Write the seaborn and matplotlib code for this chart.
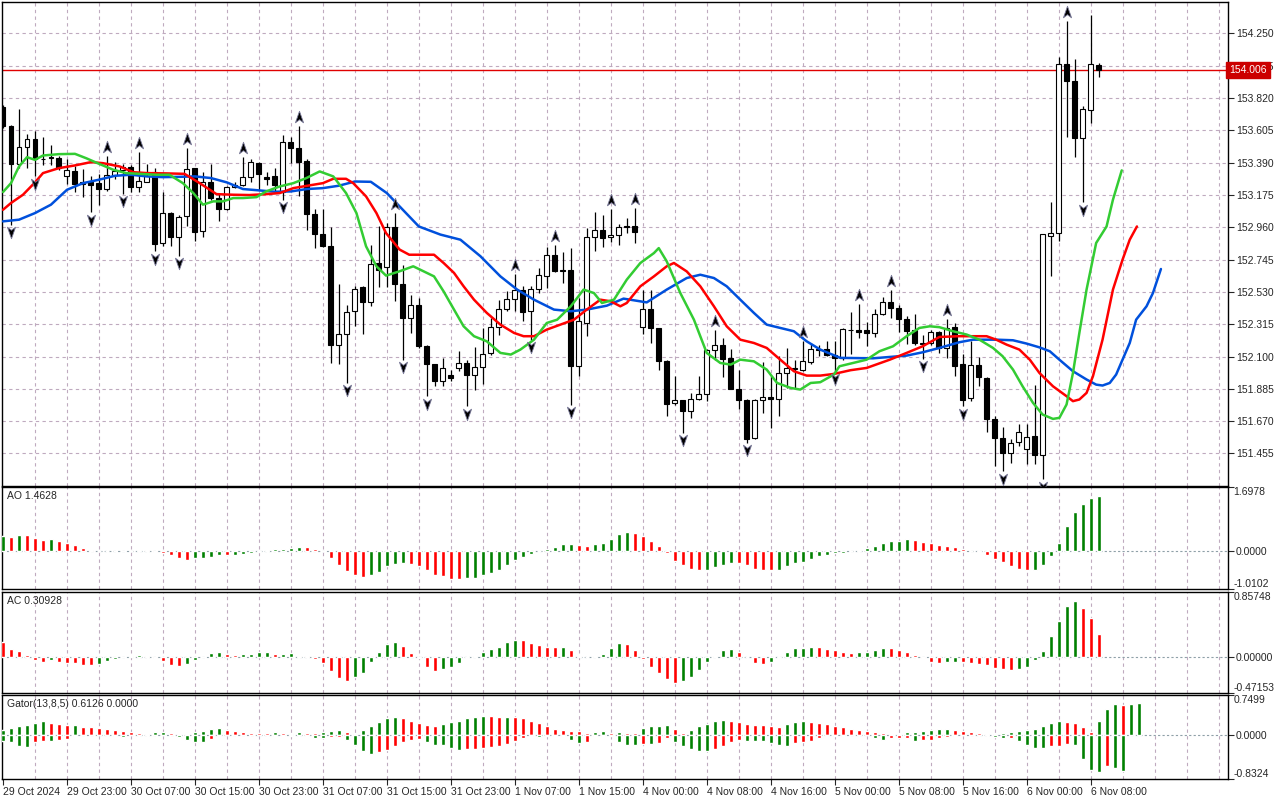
import matplotlib
matplotlib.use("Agg")
import matplotlib.pyplot as plt
from matplotlib.path import Path
from matplotlib.transforms import blended_transform_factory
import seaborn as sns

# ---------------- data (H1 bars, USDJPY-like) ----------------
opens = [
    153.758, 153.630, 153.380, 153.493, 153.546, 153.417, 153.426, 153.422, 153.300, 153.335,
    153.247, 153.258, 153.251, 153.211, 153.306, 153.342, 153.360, 153.227, 153.264, 153.326,
    152.852, 153.054, 152.894, 153.032, 153.353, 152.937, 153.262, 153.151, 153.081, 153.227,
    153.238, 153.293, 153.386, 153.291, 153.298, 153.193, 153.524, 153.486, 153.402, 153.047,
    152.914, 152.833, 152.179, 152.250, 152.401, 152.560, 152.460, 152.722, 152.693, 152.959,
    152.582, 152.356, 152.443, 152.168, 152.051, 151.936, 151.980, 152.024, 152.057, 151.980,
    152.029, 152.124, 152.297, 152.416, 152.483, 152.545, 152.401, 152.549, 152.638, 152.775,
    152.673, 152.677, 152.035, 152.323, 152.894, 152.943, 152.894, 152.908, 152.965, 152.970,
    152.294, 152.416, 152.290, 152.073, 151.792, 151.814, 151.736, 151.818, 151.851, 152.146,
    152.179, 152.091, 151.885, 151.814, 151.559, 151.814, 151.832, 151.818, 151.991, 152.017,
    152.013, 152.062, 152.146, 152.150, 152.113, 152.091, 152.273, 152.273, 152.273, 152.257,
    152.385, 152.463, 152.423, 152.350, 152.273, 152.190, 152.190, 152.261, 152.157, 152.295,
    152.051, 151.825, 152.042, 151.958, 151.685, 151.559, 151.455, 151.532, 151.486, 151.570,
    151.442, 152.903, 152.921, 154.044, 153.933, 153.552, 153.741, 154.040]
highs = [
    153.770, 153.641, 153.747, 153.579, 153.597, 153.557, 153.508, 153.435, 153.417, 153.364,
    153.349, 153.302, 153.315, 153.435, 153.393, 153.380, 153.371, 153.462, 153.380, 153.357,
    153.191, 153.058, 153.043, 153.486, 153.357, 153.324, 153.380, 153.187, 153.236, 153.264,
    153.426, 153.413, 153.391, 153.324, 153.357, 153.574, 153.557, 153.634, 153.413, 153.081,
    153.081, 152.959, 152.584, 152.445, 152.567, 152.571, 152.844, 152.965, 152.988, 153.054,
    152.711, 152.511, 152.489, 152.179, 152.051, 152.091, 152.013, 152.139, 152.079, 152.161,
    152.290, 152.356, 152.478, 152.534, 152.651, 152.571, 152.571, 152.689, 152.828, 152.844,
    152.795, 152.821, 152.489, 152.954, 153.063, 153.043, 153.081, 152.983, 153.021, 153.087,
    152.545, 152.545, 152.290, 152.079, 151.969, 151.814, 151.858, 151.969, 152.150, 152.279,
    152.223, 152.150, 152.013, 151.818, 151.818, 152.062, 151.969, 152.102, 152.157, 152.079,
    152.201, 152.190, 152.179, 152.201, 152.201, 152.290, 152.395, 152.450, 152.328, 152.416,
    152.494, 152.545, 152.445, 152.368, 152.385, 152.246, 152.279, 152.268, 152.350, 152.323,
    152.118, 152.201, 152.095, 151.962, 151.703, 151.630, 151.548, 151.652, 151.648, 151.913,
    152.914, 153.125, 154.095, 154.332, 154.077, 153.763, 154.372, 154.055]
lows = [
    153.620, 152.977, 153.353, 153.353, 153.298, 153.371, 153.371, 153.342, 153.249, 153.191,
    153.158, 153.061, 153.105, 153.198, 153.280, 153.183, 153.191, 153.191, 153.258, 152.799,
    152.832, 152.832, 152.770, 152.965, 152.868, 152.892, 153.143, 152.999, 153.076, 153.220,
    153.231, 153.264, 153.209, 153.238, 153.198, 153.143, 153.386, 153.165, 152.943, 152.821,
    152.828, 152.057, 152.051, 151.924, 152.301, 152.250, 152.434, 152.562, 152.562, 152.467,
    152.079, 152.257, 152.157, 151.836, 151.902, 151.907, 151.936, 152.002, 151.769, 151.880,
    151.918, 152.113, 152.246, 152.401, 152.401, 152.334, 152.212, 152.522, 152.556, 152.660,
    152.589, 151.780, 151.969, 152.235, 152.799, 152.828, 152.859, 152.844, 152.921, 152.855,
    152.250, 152.190, 152.009, 151.703, 151.780, 151.592, 151.692, 151.814, 151.803, 152.079,
    151.962, 151.885, 151.752, 151.526, 151.548, 151.725, 151.626, 151.703, 151.891, 151.891,
    152.002, 152.051, 152.102, 152.102, 152.002, 152.080, 152.118, 152.224, 152.168, 152.228,
    152.379, 152.357, 152.261, 152.184, 152.179, 152.084, 152.179, 152.124, 152.091, 151.969,
    151.769, 151.803, 151.902, 151.597, 151.371, 151.338, 151.393, 151.504, 151.388, 151.382,
    151.282, 152.638, 152.866, 153.563, 153.426, 153.125, 153.652, 153.958]
closes = [
    153.630, 153.380, 153.493, 153.546, 153.417, 153.411, 153.422, 153.353, 153.340, 153.247,
    153.258, 153.240, 153.211, 153.306, 153.335, 153.360, 153.225, 153.267, 153.298, 152.848,
    153.054, 152.894, 153.027, 153.346, 152.928, 153.264, 153.151, 153.081, 153.227, 153.240,
    153.293, 153.393, 153.311, 153.284, 153.238, 153.524, 153.484, 153.397, 153.047, 152.914,
    152.833, 152.179, 152.250, 152.396, 152.549, 152.460, 152.715, 152.677, 152.959, 152.582,
    152.356, 152.443, 152.168, 152.051, 151.936, 152.024, 151.958, 152.057, 151.980, 152.029,
    152.117, 152.297, 152.416, 152.483, 152.545, 152.394, 152.549, 152.642, 152.775, 152.666,
    152.666, 152.035, 152.334, 152.894, 152.943, 152.888, 152.910, 152.959, 152.961, 152.926,
    152.416, 152.290, 152.068, 151.785, 151.814, 151.736, 151.818, 151.851, 152.146, 152.175,
    152.084, 151.885, 151.814, 151.548, 151.814, 151.832, 151.818, 151.991, 152.024, 152.022,
    152.068, 152.150, 152.150, 152.113, 152.091, 152.284, 152.275, 152.264, 152.257, 152.385,
    152.463, 152.423, 152.350, 152.268, 152.190, 152.186, 152.261, 152.157, 152.290, 152.035,
    151.814, 152.042, 151.962, 151.685, 151.559, 151.455, 151.526, 151.597, 151.566, 151.442,
    152.914, 152.921, 154.044, 153.933, 153.552, 153.747, 154.044, 154.006]

fractal_up = [13, 17, 23, 30, 37, 49, 64, 69, 76, 79, 89, 100, 107, 111, 118, 133]
fractal_down = [1, 4, 11, 15, 19, 22, 35, 43, 50, 53, 58, 66, 71, 85, 93, 104,
                115, 120, 125, 130, 135]
last_price = 154.006

# Alligator lines (bar position, price)
jaw_x = [0, 2, 4, 6, 8, 10, 12, 14, 16, 18, 20, 22, 24, 26, 28, 30, 32, 34, 36, 38,
         40, 42, 44, 46, 48, 50, 52, 54.7, 57.2, 59.7, 62.2, 64.3, 66.4, 68.9, 71, 73,
         75.5, 77.6, 80.5, 83, 85.5, 87.2, 88.9, 90.5, 92.2, 93.9, 95.5, 97.2, 98.9,
         100.5, 102.2, 104.7, 108.8, 113, 115, 117.1, 119.6, 121.3, 124.2, 126.3, 128,
         129.6, 130.9, 132.1, 133.8, 135.5, 136.7, 137.5, 138.4, 139.2, 140, 140.9,
         141.7, 143, 143.8, 144.8]
jaw = [152.999, 153.010, 153.054, 153.110, 153.209, 153.253, 153.276, 153.302, 153.309,
       153.298, 153.293, 153.295, 153.298, 153.287, 153.258, 153.214, 153.205, 153.196,
       153.198, 153.214, 153.220, 153.236, 153.264, 153.262, 153.187, 153.076, 152.965,
       152.911, 152.877, 152.767, 152.633, 152.545, 152.478, 152.412, 152.401, 152.412,
       152.438, 152.485, 152.460, 152.545, 152.622, 152.644, 152.622, 152.567, 152.478,
       152.390, 152.312, 152.290, 152.268, 152.201, 152.146, 152.091, 152.088, 152.106,
       152.128, 152.157, 152.195, 152.212, 152.212, 152.208, 152.186, 152.161, 152.135,
       152.079, 152.002, 151.947, 151.913, 151.907, 151.924, 151.980, 152.079, 152.190,
       152.345, 152.434, 152.522, 152.682]

teeth_x = [0, 1, 2.5, 4, 5, 7, 9, 11, 12.5, 14.6, 16.3, 18, 20.4, 22.7, 24.6, 26.7, 28.8,
           30.8, 32.9, 34.6, 36.3, 38.3, 40, 41.3, 42.9, 43.8, 45.4, 46.7, 47.9, 49.6,
           50.8, 52.1, 53.9, 55.1, 56.4, 57.6, 58.9, 60.5, 62.2, 63.9, 65.1, 66.4, 68,
           69.7, 71.4, 73, 74.7, 76, 77.2, 78, 79.7, 81.4, 83, 83.9, 85.5, 87.2, 88.9,
           90.5, 92.2, 93.9, 95.5, 97.2, 98.9, 100.5, 102.2, 103.9, 106, 108, 110.9, 113,
           115, 117.1, 119.6, 123, 124.2, 125.5, 127.1, 128.4, 129.6, 131.3, 133, 133.8,
           134.6, 135.5, 136.3, 137.5, 138.8, 140, 140.9, 141.8]
teeth = [153.076, 153.121, 153.176, 153.258, 153.320, 153.353, 153.371, 153.393, 153.386,
         153.364, 153.326, 153.320, 153.318, 153.315, 153.253, 153.180, 153.176, 153.174,
         153.180, 153.187, 153.220, 153.238, 153.253, 153.282, 153.282, 153.253, 153.165,
         153.054, 152.921, 152.811, 152.777, 152.777, 152.777, 152.722, 152.656, 152.567,
         152.478, 152.390, 152.312, 152.257, 152.235, 152.235, 152.279, 152.312, 152.345,
         152.412, 152.478, 152.467, 152.434, 152.456, 152.567, 152.633, 152.700, 152.722,
         152.666, 152.567, 152.434, 152.301, 152.212, 152.190, 152.157, 152.079, 152.002,
         151.973, 151.973, 151.984, 152.009, 152.024, 152.079, 152.124, 152.168, 152.230,
         152.235, 152.235, 152.212, 152.179, 152.146, 152.079, 151.991, 151.902, 151.836,
         151.803, 151.814, 151.858, 151.969, 152.212, 152.545, 152.744, 152.877, 152.965]

lips_x = [0, 1, 2, 3, 4, 5, 7, 9, 10.4, 12, 13.8, 15.4, 17.1, 19.2, 20.8, 22.5, 23.8, 25,
          26.3, 27.5, 28.8, 30, 31.7, 32.9, 34.6, 36.3, 37.9, 39.6, 41.3, 42.9, 44.2, 45.4,
          46.7, 47.9, 49.6, 51.3, 53.9, 55.1, 56.4, 57.6, 58.9, 60.5, 62.2, 63.5, 64.7,
          66.4, 68, 69.3, 71, 72.6, 73.9, 74.9, 76.4, 78, 79.7, 81.4, 82, 83, 84.7, 86.4,
          88, 89.7, 91, 92.2, 93.9, 95.5, 96.8, 98.5, 99.7, 101, 102.2, 103.9, 104.6,
          106.3, 108, 109.6, 111.3, 113, 114.6, 115.9, 117.1, 118.8, 120.5, 122.1, 123.8,
          125, 126.3, 127.5, 128.8, 130, 131.3, 132.1, 133, 133.8, 134.6, 135.5, 136.7,
          138, 138.8, 139.9]
lips = [153.194, 153.253, 153.364, 153.426, 153.408, 153.437, 153.446, 153.448, 153.419,
        153.382, 153.342, 153.320, 153.315, 153.309, 153.309, 153.253, 153.187, 153.110,
        153.132, 153.132, 153.154, 153.154, 153.160, 153.198, 153.231, 153.253, 153.286,
        153.331, 153.298, 153.187, 153.054, 152.833, 152.700, 152.638, 152.667, 152.700,
        152.633, 152.533, 152.412, 152.301, 152.235, 152.201, 152.124, 152.113, 152.146,
        152.212, 152.323, 152.345, 152.434, 152.545, 152.522, 152.456, 152.478, 152.611,
        152.722, 152.788, 152.821, 152.733, 152.522, 152.345, 152.124, 152.057, 152.046,
        152.079, 152.068, 152.013, 151.924, 151.891, 151.880, 151.924, 151.929, 151.980,
        152.035, 152.057, 152.079, 152.135, 152.168, 152.235, 152.290, 152.301, 152.295,
        152.268, 152.246, 152.212, 152.157, 152.102, 152.013, 151.902, 151.792, 151.714,
        151.685, 151.692, 151.781, 151.991, 152.257, 152.545, 152.855, 152.965, 153.143,
        153.338]

# Awesome Oscillator
ao = [0.40, 0.39, 0.43, 0.42, 0.36, 0.30, 0.32, 0.27, 0.22, 0.17,
      0.09, 0.035, 0.01, 0.005, 0.01, 0.015, 0.01, 0.03, 0.025, -0.01,
      -0.035, -0.11, -0.19, -0.22, -0.19, -0.185, -0.14, -0.09, -0.11, -0.09,
      -0.06, -0.035, -0.01, 0.025, 0.06, 0.07, 0.095, 0.12, 0.11, 0.07,
      -0.005, -0.17, -0.36, -0.53, -0.62, -0.69, -0.63, -0.54, -0.40, -0.33,
      -0.30, -0.33, -0.38, -0.51, -0.64, -0.67, -0.73, -0.75, -0.72, -0.70,
      -0.64, -0.57, -0.49, -0.36, -0.23, -0.15, -0.07, -0.005, 0.06, 0.11,
      0.19, 0.195, 0.165, 0.14, 0.19, 0.22, 0.32, 0.45, 0.50, 0.495,
      0.40, 0.27, 0.14, -0.04, -0.25, -0.36, -0.46, -0.51, -0.49, -0.43,
      -0.36, -0.30, -0.305, -0.36, -0.46, -0.49, -0.51, -0.49, -0.38, -0.30,
      -0.28, -0.20, -0.12, -0.10, -0.045, -0.035, -0.005, 0.035, 0.095, 0.14,
      0.22, 0.27, 0.275, 0.32, 0.30, 0.24, 0.22, 0.165, 0.14, 0.11,
      0.06, 0.0, -0.02, -0.09, -0.20, -0.28, -0.38, -0.46, -0.51, -0.49,
      -0.36, -0.12, 0.22, 0.66, 1.03, 1.26, 1.42, 1.4628]
ao_prev = 0.38

# Accelerator Oscillator
ac = [0.20, 0.11, 0.085, 0.03, -0.045, -0.07, -0.045, -0.07, -0.075, -0.085,
      -0.10, -0.11, -0.095, -0.057, -0.02, -0.005, 0.01, 0.022, 0.012, -0.018,
      -0.057, -0.10, -0.12, -0.095, -0.045, 0.003, 0.057, 0.07, 0.044, 0.031,
      0.044, 0.046, 0.07, 0.072, 0.044, 0.046, 0.05, 0.02, 0.01, -0.03,
      -0.085, -0.19, -0.28, -0.32, -0.27, -0.21, -0.07, 0.07, 0.176, 0.20,
      0.15, 0.057, -0.018, -0.137, -0.19, -0.163, -0.137, -0.084, -0.018, 0.018,
      0.07, 0.11, 0.137, 0.20, 0.23, 0.228, 0.19, 0.163, 0.137, 0.135,
      0.138, 0.097, 0.018, 0.002, 0.009, 0.044, 0.123, 0.19, 0.176, 0.097,
      -0.031, -0.137, -0.216, -0.295, -0.348, -0.32, -0.27, -0.176, -0.07, 0.018,
      0.097, 0.11, 0.07, 0.004, -0.084, -0.088, -0.07, -0.013, 0.07, 0.123,
      0.125, 0.137, 0.135, 0.11, 0.097, 0.07, 0.057, 0.07, 0.072, 0.097,
      0.123, 0.12, 0.097, 0.07, 0.031, -0.018, -0.07, -0.072, -0.07, -0.068,
      -0.07, -0.084, -0.086, -0.11, -0.15, -0.163, -0.176, -0.163, -0.137, -0.044,
      0.084, 0.28, 0.48, 0.68, 0.745, 0.65, 0.52, 0.30928]
ac_prev = 0.25

# Gator oscillator (upper = |jaw-teeth|, lower = -|teeth-lips|)
gator_up = [0.083, 0.122, 0.16, 0.18, 0.218, 0.256, 0.218, 0.199, 0.18, 0.185,
            0.141, 0.14, 0.122, 0.103, 0.083, 0.064, 0.045, 0.026, 0.02, 0.045,
            0.048, 0.026, 0.02, 0.015, 0.045, 0.064, 0.103, 0.122, 0.083, 0.064,
            0.045, 0.043, 0.04, 0.035, 0.045, 0.026, 0.02, 0.045, 0.04, 0.026,
            0.045, 0.064, 0.083, 0.045, 0.013, 0.083, 0.167, 0.237, 0.314, 0.333,
            0.314, 0.256, 0.218, 0.18, 0.16, 0.2, 0.237, 0.256, 0.314, 0.333,
            0.353, 0.35, 0.333, 0.34, 0.333, 0.314, 0.256, 0.218, 0.16, 0.103,
            0.083, 0.08, 0.064, 0.026, 0.045, 0.064, 0.026, 0.045, 0.043, 0.04,
            0.122, 0.16, 0.165, 0.18, 0.103, 0.026, 0.083, 0.16, 0.2, 0.256,
            0.276, 0.27, 0.237, 0.2, 0.19, 0.18, 0.16, 0.155, 0.2, 0.237,
            0.256, 0.237, 0.218, 0.2, 0.16, 0.141, 0.103, 0.083, 0.064, 0.045,
            0.043, 0.02, 0.015, 0.045, 0.05, 0.064, 0.083, 0.103, 0.106, 0.083,
            0.064, 0.045, 0.026, 0.02, 0.024, 0.032, 0.045, 0.064, 0.083, 0.103,
            0.16, 0.218, 0.256, 0.237, 0.218, 0.141, 0.045, 0.256, 0.487, 0.58,
            0.575, 0.59, 0.6126]
gator_down = [-0.109, -0.128, -0.205, -0.224, -0.128, -0.109, -0.115, -0.09, -0.07, -0.02,
              -0.01, -0.005, -0.008, -0.01, -0.026, -0.045, -0.01, -0.008, -0.005, -0.008,
              -0.01, -0.012, -0.045, -0.09, -0.128, -0.13, -0.07, -0.026, -0.01, -0.008,
              -0.006, -0.008, -0.01, -0.012, -0.026, -0.024, -0.028, -0.01, -0.026, -0.064,
              -0.066, -0.05, -0.04, -0.09, -0.186, -0.30, -0.36, -0.32, -0.28, -0.205,
              -0.128, -0.09, -0.07, -0.128, -0.186, -0.19, -0.244, -0.28, -0.278, -0.263,
              -0.244, -0.224, -0.205, -0.167, -0.109, -0.051, -0.013, -0.045, -0.02, -0.015,
              -0.026, -0.10, -0.147, -0.128, -0.026, -0.024, -0.013, -0.128, -0.186, -0.19,
              -0.167, -0.17, -0.147, -0.051, -0.128, -0.205, -0.263, -0.30, -0.305, -0.263,
              -0.205, -0.128, -0.09, -0.109, -0.115, -0.12, -0.147, -0.186, -0.205, -0.147,
              -0.128, -0.109, -0.051, -0.026, -0.013, -0.026, -0.01, -0.005, -0.01, -0.064,
              -0.09, -0.064, -0.062, -0.06, -0.109, -0.105, -0.09, -0.051, -0.045, -0.02,
              -0.01, -0.008, -0.006, -0.01, -0.045, -0.064, -0.06, -0.109, -0.186, -0.244,
              -0.25, -0.218, -0.205, -0.18, -0.185, -0.455, -0.667, -0.705, -0.59, -0.63,
              -0.686]
gator_up_prev = 0.07
gator_down_prev = -0.10

price_ticks = [154.250, 154.035, 153.820, 153.605, 153.390, 153.175, 152.960,
               152.745, 152.530, 152.315, 152.100, 151.885, 151.670, 151.455]
time_ticks = [0, 8, 16, 24, 32, 40, 48, 56, 64, 72, 80, 88, 96, 104, 112, 120, 128, 136]
time_labels = ["29 Oct 2024", "29 Oct 23:00", "30 Oct 07:00", "30 Oct 15:00",
               "30 Oct 23:00", "31 Oct 07:00", "31 Oct 15:00", "31 Oct 23:00",
               "1 Nov 07:00", "1 Nov 15:00", "4 Nov 00:00", "4 Nov 08:00",
               "4 Nov 16:00", "5 Nov 00:00", "5 Nov 08:00", "5 Nov 16:00",
               "6 Nov 00:00", "6 Nov 08:00"]
ao_range = (-1.0102, 1.6978)
ac_range = (-0.47153, 0.85748)
gator_range = (-0.8324, 0.7499)

# ---------------- style ----------------
GREEN = "#008000"
RED = "#ff0000"
GRID = "#bfaabf"
sns.set_style("white")
plt.rcParams["font.family"] = ["Liberation Sans", "DejaVu Sans"]
plt.rcParams["font.size"] = 7.5
plt.rcParams["axes.linewidth"] = 1.0


def trend_colors(values, prev, use_abs=False):
    cols = []
    last = prev
    col = GREEN
    for v in values:
        a, b = (abs(v), abs(last)) if use_abs else (v, last)
        if a > b:
            col = GREEN
        elif a < b:
            col = RED
        cols.append(col)
        last = v
    return cols


def setup_panel(ax, lo, hi, fmt, label):
    # MT5 style: min / max written at the panel edges, zero in the middle
    ax.set_ylim(lo, hi)
    ax.set_yticks([lo, 0, hi])
    ax.set_yticklabels(["", fmt.format(0), ""])
    tr = blended_transform_factory(ax.transAxes, ax.transData)
    ax.annotate(fmt.format(hi), xy=(1, hi), xycoords=tr, xytext=(4.3, 0.5),
                textcoords="offset points", ha="left", va="top", fontsize=7.5,
                annotation_clip=False)
    ax.annotate(fmt.format(lo), xy=(1, lo), xycoords=tr, xytext=(4.3, 0),
                textcoords="offset points", ha="left", va="bottom", fontsize=7.5,
                annotation_clip=False)
    ax.axhline(0, color="#8fa0a8", lw=0.8, ls=(0, (2, 2)), zorder=1)
    ax.text(0.004, 0.96, label, transform=ax.transAxes, ha="left", va="top", fontsize=7.5)


W, H = 1280, 800
fig = plt.figure(figsize=(W / 100, H / 100), dpi=100)
left, width = 2 / W, 1225.5 / W
ax_main = fig.add_axes([left, 1 - 485.5 / H, width, 483.5 / H])
ax_ao = fig.add_axes([left, 1 - 589.3 / H, width, 102 / H], sharex=ax_main)
ax_ac = fig.add_axes([left, 1 - 692.7 / H, width, 100.4 / H], sharex=ax_main)
ax_gt = fig.add_axes([left, 1 - 778.7 / H, width, 83.4 / H], sharex=ax_main)

n = len(opens)
bars = list(range(n))

# ---------------- main price panel ----------------
ax = ax_main
ax.vlines(bars, lows, highs, color="black", lw=0.9, zorder=3)
body_low = [min(o, c) for o, c in zip(opens, closes)]
body_h = [max(abs(c - o), 0.003) for o, c in zip(opens, closes)]
body_col = ["white" if c >= o else "black" for o, c in zip(opens, closes)]
ax.bar(bars, body_h, bottom=body_low, width=0.62, color=body_col,
       edgecolor="black", linewidth=0.8, zorder=4)

sns.lineplot(x=jaw_x, y=jaw, ax=ax, color="#0050dc", lw=1.8, estimator=None, sort=False, zorder=5)
sns.lineplot(x=teeth_x, y=teeth, ax=ax, color="#ff0000", lw=1.8, estimator=None, sort=False, zorder=5)
sns.lineplot(x=lips_x, y=lips, ax=ax, color="#33cc33", lw=1.8, estimator=None, sort=False, zorder=5)

up_arrow = Path([(0, 1), (0.65, -0.85), (0, -0.35), (-0.65, -0.85), (0, 1)],
                [Path.MOVETO, Path.LINETO, Path.LINETO, Path.LINETO, Path.CLOSEPOLY])
down_arrow = Path([(0, -1), (0.65, 0.85), (0, 0.35), (-0.65, 0.85), (0, -1)],
                  [Path.MOVETO, Path.LINETO, Path.LINETO, Path.LINETO, Path.CLOSEPOLY])
ax.plot(fractal_up, [highs[i] + 0.06 for i in fractal_up], ls="none", marker=up_arrow,
        ms=9, mfc="black", mec="#7a7a9a", mew=0.6, zorder=6)
ax.plot(fractal_down, [lows[i] - 0.05 for i in fractal_down], ls="none", marker=down_arrow,
        ms=9, mfc="black", mec="#7a7a9a", mew=0.6, zorder=6)

ax.axhline(last_price, color="#e00000", lw=1.0, zorder=2)
ax.set_ylim(151.242, 154.458)
ax.set_yticks(price_ticks)
ax.set_yticklabels([f"{p:.3f}" for p in price_ticks])
ax.grid(True, axis="y", color=GRID, ls=(0, (3, 3)), lw=0.8)
trans = blended_transform_factory(ax.transAxes, ax.transData)
ax.text(1.0015, last_price, f"{last_price:.3f}", transform=trans, ha="left", va="center",
        color="white", fontsize=7.5, zorder=10, clip_on=False,
        bbox=dict(boxstyle="square,pad=0.3", fc="#cc0000", ec="#cc0000"))

# ---------------- indicator panels ----------------
ao_x = list(range(len(ao)))
ax_ao.bar(ao_x, ao, width=0.5, color=trend_colors(ao, ao_prev), zorder=3)
setup_panel(ax_ao, *ao_range, "{:.4f}", "AO 1.4628")

ac_x = list(range(len(ac)))
ax_ac.bar(ac_x, ac, width=0.5, color=trend_colors(ac, ac_prev), zorder=3)
setup_panel(ax_ac, *ac_range, "{:.5f}", "AC 0.30928")

gu_x = list(range(len(gator_up)))
gd_x = list(range(len(gator_down)))
ax_gt.bar(gu_x, gator_up, width=0.5, color=trend_colors(gator_up, gator_up_prev, True), zorder=3)
ax_gt.bar(gd_x, gator_down, width=0.5, color=trend_colors(gator_down, gator_down_prev, True), zorder=3)
setup_panel(ax_gt, *gator_range, "{:.4f}", "Gator(13,8,5) 0.6126 0.0000")

# ---------------- shared axis cosmetics ----------------
vgrid = list(range(4, 154, 4))
for a in (ax_main, ax_ao, ax_ac, ax_gt):
    a.set_xlim(-0.125, 153.125)
    for g in vgrid:
        a.axvline(g, color=GRID, ls=(0, (3, 3)), lw=0.8, zorder=0)
    a.yaxis.tick_right()
    a.tick_params(axis="y", direction="out", length=4, width=0.8, pad=2, labelsize=7.5,
                  right=True, left=False)
    for s in a.spines.values():
        s.set_color("black")
        s.set_linewidth(1.0)
    a.set_xlabel("")
    a.set_ylabel("")

for a in (ax_main, ax_ao, ax_ac):
    a.tick_params(axis="x", bottom=False, labelbottom=False)

ax_gt.set_xticks(time_ticks)
ax_gt.set_xticklabels(time_labels, ha="left")
ax_gt.tick_params(axis="x", direction="out", length=4, width=0.8, pad=2, labelsize=7.5,
                  bottom=True)

fig.savefig("out.png", dpi=100, facecolor="white")
